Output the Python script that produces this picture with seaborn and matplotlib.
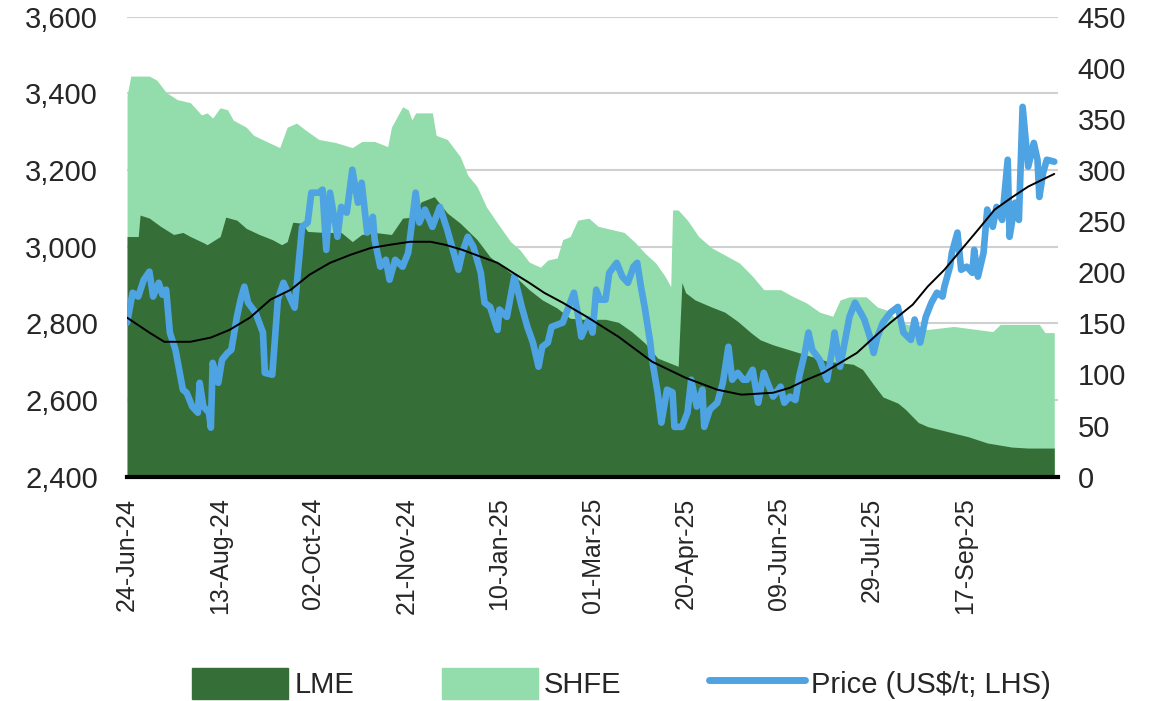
import pandas as pd
import seaborn as sns
import matplotlib.pyplot as plt
from matplotlib.patches import Patch
from matplotlib.lines import Line2D
from matplotlib.ticker import FuncFormatter

inicio = pd.Timestamp("2024-06-24")

# Precio (US$/t), dias desde 24-Jun-24
precio_dias = [0, 3, 6, 9, 12, 14, 17, 19, 21, 23, 26, 30, 32, 35, 38, 39, 41, 44, 45, 46,
               49, 51, 54, 56, 59, 61, 63, 65, 69, 73, 74, 78, 81, 84, 88, 90, 92, 94, 97, 99,
               103, 105, 107, 109, 113, 115, 118, 121, 124, 126, 129, 132, 133, 136, 139, 141,
               144, 148, 151, 155, 157, 160, 164, 168, 172, 175, 178, 180, 183, 186, 190, 192,
               195, 199, 200, 204, 208, 212, 215, 218, 221, 223, 226, 228, 234, 236, 240, 242,
               244, 248, 250, 252, 254, 257, 259, 263, 266, 269, 272, 274, 276, 278, 281, 282,
               285, 287, 290, 293, 294, 298, 301, 303, 306, 309, 310, 313, 317, 320, 323, 325,
               328, 331, 333, 336, 339, 342, 344, 347, 351, 353, 356, 359, 361, 364, 366, 368,
               372, 376, 379, 380, 383, 386, 388, 391, 394, 396, 399, 401, 403, 406, 410, 414,
               417, 421, 423, 426, 429, 432, 435, 438, 439, 442, 443, 446, 448, 451, 454, 455,
               457, 460, 462, 465, 467, 470, 473, 474, 477, 479, 481, 484, 487, 489, 490, 492,
               494, 498]
precio = [2802, 2880, 2870, 2914, 2935, 2870, 2906, 2875, 2888, 2776, 2731, 2627, 2619, 2583,
          2567, 2645, 2583, 2567, 2528, 2697, 2645, 2705, 2723, 2731, 2817, 2862, 2896, 2854,
          2828, 2776, 2671, 2666, 2862, 2906, 2862, 2841, 2948, 3052, 3063, 3141, 3141, 3149,
          2992, 3141, 3026, 3104, 3089, 3201, 3115, 3167, 3037, 3078, 3018, 2948, 2966, 2914,
          2966, 2948, 2984, 3141, 3063, 3097, 3052, 3104, 3044, 2992, 2940, 2984, 3026, 3000,
          2932, 2854, 2843, 2783, 2836, 2817, 2922, 2843, 2791, 2750, 2687, 2739, 2750, 2791,
          2802, 2828, 2880, 2828, 2765, 2810, 2776, 2888, 2862, 2862, 2932, 2958, 2922, 2906,
          2948, 2958, 2896, 2843, 2750, 2705, 2619, 2541, 2627, 2620, 2530, 2530, 2567, 2653,
          2583, 2627, 2530, 2575, 2593, 2645, 2739, 2653, 2671, 2653, 2653, 2679, 2593, 2671,
          2645, 2609, 2635, 2593, 2609, 2600, 2661, 2723, 2776, 2731, 2705, 2653, 2739, 2776,
          2687, 2765, 2817, 2854, 2828, 2810, 2765, 2723, 2765, 2802, 2828, 2843, 2776, 2757,
          2810, 2750, 2817, 2854, 2880, 2870, 2896, 2948, 2984, 3037, 2940, 2948, 2932, 2992,
          2922, 2984, 3097, 3052, 3104, 3070, 3227, 3026, 3115, 3070, 3365, 3209, 3271, 3227,
          3130, 3193, 3227, 3222]

# Linea de tendencia (negra)
tendencia_dias = [0, 12, 20, 34, 45, 55, 66, 77, 88, 98, 109, 120, 131, 141, 152, 163, 171,
                  180, 190, 199, 208, 216, 224, 234, 247, 264, 282, 300, 317, 330, 347, 356,
                  365, 374, 383, 392, 401, 410, 422, 430, 439, 448, 457, 466, 475, 484, 495, 498]
tendencia = [2815, 2776, 2752, 2752, 2763, 2783, 2815, 2862, 2888, 2927, 2958, 2979, 2997,
             3005, 3013, 3013, 3005, 2992, 2974, 2958, 2930, 2906, 2880, 2854, 2817, 2765,
             2700, 2658, 2627, 2614, 2619, 2632, 2653, 2671, 2697, 2723, 2763, 2802, 2849,
             2896, 2940, 2992, 3044, 3097, 3128, 3157, 3183, 3190]

# Inventarios LME + SHFE (kt)
total_dias = [0, 2, 12, 16, 21, 27, 34, 40, 43, 46, 50, 54, 57, 64, 68, 75, 82, 86, 91, 96,
              103, 112, 121, 126, 133, 140, 142, 148, 151, 153, 155, 164, 166, 172, 179, 183,
              188, 193, 199, 206, 211, 216, 222, 226, 231, 234, 238, 242, 248, 253, 260, 267,
              273, 278, 284, 289, 292, 293, 296, 301, 307, 314, 321, 329, 336, 342, 351, 358,
              365, 372, 379, 383, 388, 397, 403, 408, 415, 430, 444, 465, 469, 490, 493, 498]
total_inv = [373, 392, 392, 388, 376, 369, 366, 354, 356, 351, 361, 359, 349, 342, 334, 328,
             322, 342, 346, 339, 330, 327, 322, 328, 328, 323, 342, 362, 359, 349, 356, 356,
             334, 330, 313, 295, 284, 264, 248, 230, 222, 210, 205, 212, 214, 232, 235, 251,
             253, 245, 242, 239, 229, 219, 209, 196, 186, 261, 261, 251, 235, 224, 217, 209,
             196, 183, 183, 176, 170, 161, 157, 173, 176, 176, 166, 163, 151, 144, 147, 142,
             149, 149, 141, 141]

# Inventarios LME (kt)
lme_dias = [0, 6, 7, 12, 18, 25, 30, 34, 41, 43, 50, 53, 59, 64, 71, 78, 83, 86, 89, 94, 97,
            106, 115, 121, 126, 133, 142, 148, 153, 158, 165, 172, 179, 188, 195, 202, 209,
            216, 223, 231, 238, 245, 257, 264, 271, 278, 285, 296, 298, 300, 305, 314, 321,
            328, 335, 340, 347, 356, 365, 376, 390, 395, 401, 406, 414, 418, 425, 430, 441,
            452, 462, 475, 484, 498]
lme_inv = [235, 235, 256, 253, 245, 237, 239, 235, 229, 227, 235, 254, 251, 243, 237, 232,
           227, 230, 249, 248, 240, 239, 239, 230, 237, 239, 237, 253, 254, 269, 274, 258,
           248, 232, 215, 205, 195, 183, 173, 165, 155, 154, 154, 151, 142, 131, 116, 108,
           190, 180, 173, 166, 161, 152, 141, 134, 129, 124, 119, 113, 110, 105, 90, 78, 72,
           66, 53, 49, 44, 39, 33, 29, 28, 28]

etiquetas_leyenda = ["LME", "SHFE", "Price (US$/t; LHS)"]


def fechas(dias):
    return inicio + pd.to_timedelta(dias, unit="D")


df_precio = pd.DataFrame({"Fecha": fechas(precio_dias), "Precio": precio})
df_tend = pd.DataFrame({"Fecha": fechas(tendencia_dias), "Precio": tendencia})

verde_osc = "#356e37"
verde_cla = "#93dcab"
azul = "#4ea3e3"

sns.set_style("white")
plt.rcParams["font.family"] = ["Liberation Sans", "DejaVu Sans"]

fig = plt.figure(figsize=(11.55, 7.01), dpi=100)
ax_inv = fig.add_axes([0.110, 0.320, 0.806, 0.656])
ax_precio = ax_inv.twinx()

# lineas de cuadricula (del eje izquierdo) detras de las areas
ticks_precio = list(range(2400, 3601, 200))
for p in ticks_precio[1:]:
    ax_inv.axhline((p - 2400) * 450 / 1200, color="#d0d0d0", lw=1.5, zorder=0)

ax_inv.fill_between(fechas(total_dias), 0, total_inv, color=verde_cla, lw=0, zorder=1)
ax_inv.fill_between(fechas(lme_dias), 0, lme_inv, color=verde_osc, lw=0, zorder=2)

sns.lineplot(data=df_precio, x="Fecha", y="Precio", ax=ax_precio, color=azul, lw=4.8)
sns.lineplot(data=df_tend, x="Fecha", y="Precio", ax=ax_precio, color="black", lw=1.4)

ax_inv.set_xlim(inicio, inicio + pd.Timedelta(days=500))
ax_inv.set_ylim(0, 450)
ax_precio.set_ylim(2400, 3600)

ticks_x = [inicio + pd.Timedelta(days=50 * i) for i in range(11)]
ax_inv.set_xticks(ticks_x)
ax_inv.set_xticklabels([t.strftime("%d-%b-%y") for t in ticks_x[:-1]] + [""])

ax_inv.yaxis.tick_right()
ax_inv.set_yticks(range(0, 451, 50))
ax_precio.yaxis.tick_left()
ax_precio.set_yticks(ticks_precio)
ax_precio.yaxis.set_major_formatter(FuncFormatter(lambda v, _: f"{v:,.0f}"))

ax_inv.tick_params(axis="x", direction="out", length=10, width=2.5, color="black",
                   labelsize=18, rotation=90, pad=5)
ax_inv.tick_params(axis="y", length=0, labelsize=21, pad=14)
ax_precio.tick_params(axis="y", length=0, labelsize=21, pad=21)

for ax in (ax_inv, ax_precio):
    for s in ax.spines.values():
        s.set_visible(False)
    ax.set_xlabel("")
    ax.set_ylabel("")
ax_inv.spines["bottom"].set_visible(True)
ax_inv.spines["bottom"].set_color("black")
ax_inv.spines["bottom"].set_linewidth(3)

handles = [Patch(facecolor=verde_osc, edgecolor=verde_osc),
           Patch(facecolor=verde_cla, edgecolor=verde_cla),
           Line2D([], [], color=azul, lw=5)]
fig.legend(handles, etiquetas_leyenda, loc="center", bbox_to_anchor=(0.538, 0.025), ncol=3,
           frameon=False, fontsize=21, handlelength=3.3, handleheight=1.25,
           handletextpad=0.2, columnspacing=3.0)

fig.savefig("out.png", dpi=100)
